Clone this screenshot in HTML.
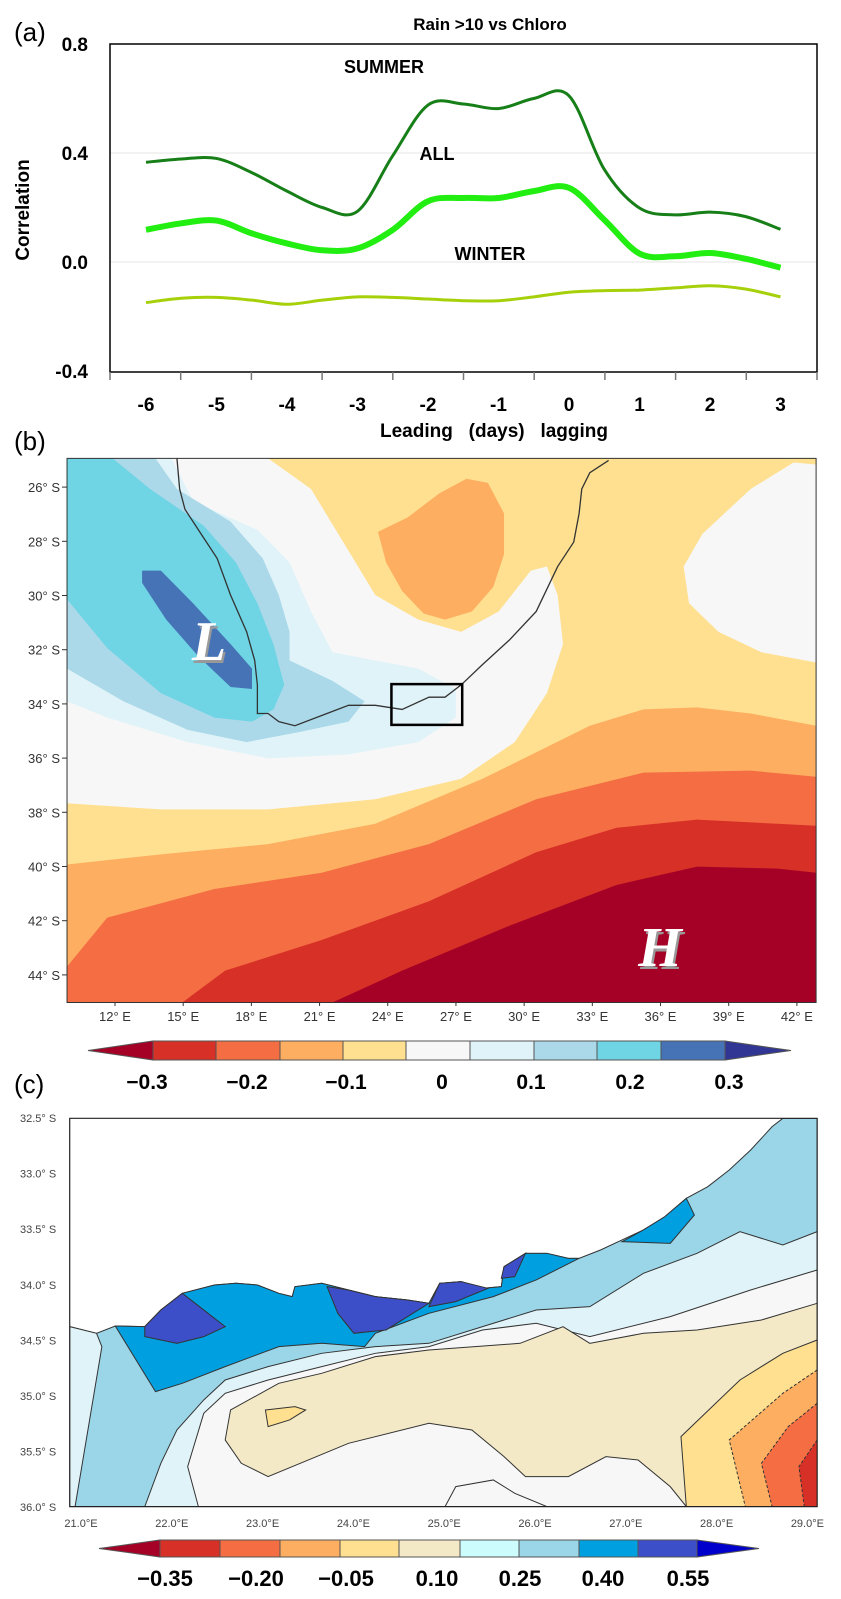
<!DOCTYPE html>
<html><head><meta charset="utf-8">
<style>
body{margin:0;background:#fff;width:841px;height:1599px;overflow:hidden;font-family:"Liberation Sans",sans-serif}
svg{position:absolute;left:0;top:0}
</style></head>
<body>
<svg id="fig" width="841" height="1599" viewBox="0 0 841 1599">
<!-- Panel (a) -->
<g>
<text x="14" y="41" font-size="26">(a)</text>
<text x="490" y="30" font-size="17" font-weight="bold" text-anchor="middle">Rain &gt;10  vs Chloro</text>
<g id="gridA"></g>
<rect x="110" y="44" width="707" height="328" fill="none" stroke="#000" stroke-width="1.5"/>
<g id="ticksA"></g>
<g id="linesA"></g>
<text x="384" y="73" font-size="18" font-weight="bold" text-anchor="middle">SUMMER</text>
<text x="437" y="160" font-size="18" font-weight="bold" text-anchor="middle">ALL</text>
<text x="490" y="260" font-size="18" font-weight="bold" text-anchor="middle">WINTER</text>
<text transform="translate(29,210) rotate(-90)" font-size="19" font-weight="bold" text-anchor="middle">Correlation</text>
<text x="494" y="437" font-size="19" font-weight="bold" text-anchor="middle" xml:space="preserve">Leading   (days)   lagging</text>
</g>

<!-- Panel (b) -->
<text x="14" y="450" font-size="26">(b)</text>
<defs>
<clipPath id="clipB"><rect x="125" y="45" width="1397" height="1333"/></clipPath>
<clipPath id="clipC"><rect x="130" y="115" width="1394" height="1165"/></clipPath>
</defs>
<g transform="translate(0,440) scale(0.5362,0.4082)">
<g clip-path="url(#clipB)">
<rect x="125" y="45" width="1397" height="1333" fill="#fee090"/>
<path fill="#fdae61" d="M125,1040 L300,1015 500,990 700,940 900,830 1100,700 1200,660 1300,655 1400,670 1522,700 L1522,1378 125,1378Z"/>
<path fill="#f46d43" d="M125,1290 L200,1170 400,1100 600,1060 800,990 1000,880 1200,815 1400,810 1522,825 L1522,1378 125,1378Z"/>
<path fill="#d73027" d="M340,1378 L420,1300 600,1225 800,1130 1000,1010 1150,950 1300,930 1522,945 L1522,1378Z"/>
<path fill="#a50026" d="M620,1378 L750,1300 950,1190 1150,1090 1300,1045 1450,1050 1522,1060 L1522,1378Z"/>
<path fill="#f7f7f7" d="M125,45 L500,45 580,120 640,250 700,380 780,440 860,470 930,420 990,320 1020,310 1040,380 1050,500 1020,620 960,740 860,830 700,880 500,905 300,905 125,890Z"/>
<path fill="#f7f7f7" d="M1522,60 L1480,55 1400,120 1310,230 1275,310 1285,400 1340,470 1420,520 1522,545Z"/>
<path fill="#fdae61" d="M705,225 L760,190 820,130 870,95 910,105 940,180 940,280 920,360 880,420 830,440 790,425 750,370 720,300Z"/>
<path fill="#e0f3f8" d="M125,45 L320,45 360,150 480,220 540,300 580,420 620,520 780,560 850,610 850,680 780,740 650,770 500,780 350,740 200,680 125,640Z"/>
<path fill="#abd9e9" d="M125,45 L290,45 330,120 430,200 490,290 520,380 540,470 540,540 620,590 680,640 650,690 560,715 460,740 350,710 230,640 125,560Z"/>
<path fill="#6fd4e4" d="M125,45 L210,45 280,120 380,210 440,300 480,400 510,500 530,600 510,660 470,690 400,680 300,620 200,510 125,390Z"/>
<path fill="#4673b6" d="M265,320 L300,320 360,400 430,500 470,560 470,610 430,605 370,530 310,440 265,350Z"/>
<path fill="none" stroke="#333" stroke-width="1.3" vector-effect="non-scaling-stroke" d="M330,45 L335,120 345,170 380,240 405,290 430,380 460,470 475,540 480,600 480,670 500,670 520,690 550,700 600,675 650,650 700,650 750,660 800,630 830,630 860,600 900,550 950,490 1000,420 1040,310 1070,250 1080,180 1085,120 1100,80 1135,50"/>
</g>
<rect x="125" y="45" width="1397" height="1333" fill="none" stroke="#333" stroke-width="1" vector-effect="non-scaling-stroke"/>
<rect x="730" y="598" width="132" height="100" fill="none" stroke="#000" stroke-width="2.5" vector-effect="non-scaling-stroke"/>
</g>
<text x="211" y="663" font-family="Liberation Serif,serif" font-size="56" font-weight="bold" font-style="italic" fill="#999" text-anchor="middle">L</text>
<text x="209" y="660" font-family="Liberation Serif,serif" font-size="56" font-weight="bold" font-style="italic" fill="#fff" text-anchor="middle">L</text>
<text x="662" y="969" font-family="Liberation Serif,serif" font-size="56" font-weight="bold" font-style="italic" fill="#999" text-anchor="middle">H</text>
<text x="660" y="966" font-family="Liberation Serif,serif" font-size="56" font-weight="bold" font-style="italic" fill="#fff" text-anchor="middle">H</text>
<g id="axesB" font-size="13" fill="#333"></g>
<g id="cbarB"></g>

<!-- Panel (c) -->
<text x="14" y="1093" font-size="26">(c)</text>
<g transform="translate(0,1080) scale(0.5362,0.3333)">
<g clip-path="url(#clipC)" stroke="#333" stroke-width="1" vector-effect="non-scaling-stroke">
<rect x="130" y="115" width="1394" height="1165" fill="#fff" stroke="none"/>
<path fill="#9ad5e8" vector-effect="non-scaling-stroke" d="M130,740 L180,760 215,738 270,740 300,690 340,640 400,615 440,610 480,615 520,640 545,650 550,620 600,610 650,630 700,650 760,660 800,670 820,610 860,605 900,625 935,620 940,560 980,520 1020,520 1060,535 1080,535 1120,510 1160,480 1200,450 1240,410 1280,355 1320,320 1360,270 1400,210 1440,140 1460,115 1524,115 1524,1280 130,1280Z"/>
<path fill="#e0f3f8" vector-effect="non-scaling-stroke" d="M130,740 L180,760 190,800 140,1280 130,1280Z"/>
<path fill="#00a0e0" vector-effect="non-scaling-stroke" d="M215,738 L270,740 300,690 340,640 400,615 440,610 480,615 520,640 545,650 550,620 600,610 650,630 700,650 760,660 800,670 820,610 860,605 900,625 935,620 940,560 980,520 1020,520 1060,535 1080,535 1000,600 920,650 800,700 700,760 680,800 600,790 520,800 420,860 340,910 290,935Z"/>
<path fill="#00a0e0" vector-effect="non-scaling-stroke" d="M1160,485 L1200,450 1240,410 1280,355 1295,405 1250,490Z"/>
<path fill="#3d4fc8" vector-effect="non-scaling-stroke" d="M270,740 L300,690 340,640 420,740 380,770 330,790 270,770Z"/>
<path fill="#3d4fc8" vector-effect="non-scaling-stroke" d="M610,620 L650,630 700,650 760,660 800,670 720,750 660,760 630,700Z"/>
<path fill="#3d4fc8" vector-effect="non-scaling-stroke" d="M820,610 L860,605 910,625 850,665 800,680Z"/>
<path fill="#3d4fc8" vector-effect="non-scaling-stroke" d="M940,560 L980,520 960,590 935,595Z"/>
<path fill="#e0f3f8" vector-effect="non-scaling-stroke" d="M1524,455 L1460,495 1380,455 1300,520 1200,580 1100,680 1000,690 900,740 800,790 700,800 600,820 500,860 420,900 380,960 330,1050 300,1150 270,1280 1524,1280Z"/>
<path fill="#f7f7f7" vector-effect="non-scaling-stroke" d="M1524,570 L1400,630 1250,710 1100,770 1000,730 900,750 800,800 700,820 600,860 500,900 420,940 380,1000 350,1160 370,1280 1524,1280Z"/>
<path fill="#f3e9c6" vector-effect="non-scaling-stroke" d="M1524,670 L1420,720 1300,750 1200,760 1100,790 1050,740 970,790 800,810 700,830 600,880 520,910 430,990 420,1080 450,1150 500,1190 560,1150 650,1090 800,1030 880,1050 940,1130 980,1190 1060,1190 1130,1130 1190,1140 1250,1220 1280,1280 1524,1280Z"/>
<path fill="#f7f7f7" vector-effect="non-scaling-stroke" d="M830,1280 L850,1220 920,1200 960,1240 1020,1280Z"/>
<path fill="#fee090" vector-effect="non-scaling-stroke" d="M1524,780 L1460,820 1380,900 1270,1070 1280,1280 1524,1280Z"/>
<path fill="#fee090" vector-effect="non-scaling-stroke" d="M495,990 L550,980 570,990 540,1020 500,1040Z"/>
<path fill="#fdae61" stroke-dasharray="3,2" vector-effect="non-scaling-stroke" d="M1524,870 L1460,940 1360,1080 1390,1280 1524,1280Z"/>
<path fill="#f46d43" stroke-dasharray="3,2" vector-effect="non-scaling-stroke" d="M1524,970 L1470,1040 1420,1150 1440,1280 1524,1280Z"/>
<path fill="#d73027" stroke-dasharray="3,2" vector-effect="non-scaling-stroke" d="M1524,1080 L1490,1160 1500,1280 1524,1280Z"/>
</g>
<rect x="130" y="115" width="1394" height="1165" fill="none" stroke="#222" stroke-width="1.2" vector-effect="non-scaling-stroke"/>
</g>
<g id="axesC" font-size="11" fill="#444"></g>
<g id="cbarC"></g>
</svg>
<script>
// ---- Panel (a) data ----
var lags = [-6,-5.5,-5,-4.5,-4,-3.5,-3,-2.5,-2,-1.5,-1,-0.5,0,0.5,1,1.5,2,2.5,3];
var summerVals = [0.366,0.378,0.38,0.328,0.26,0.20,0.186,0.39,0.576,0.58,0.563,0.60,0.61,0.34,0.198,0.173,0.183,0.167,0.12];
var allVals = [0.118,0.142,0.152,0.105,0.068,0.043,0.05,0.118,0.223,0.235,0.235,0.26,0.272,0.155,0.031,0.021,0.033,0.012,-0.021];
var winterVals = [-0.149,-0.133,-0.13,-0.14,-0.155,-0.14,-0.128,-0.13,-0.136,-0.142,-0.142,-0.128,-0.111,-0.105,-0.103,-0.095,-0.087,-0.099,-0.128];
var xTickLabels = [-6,-5,-4,-3,-2,-1,0,1,2,3];
var yTickVals = [0.8,0.4,0.0,-0.4];
var yTickText = ["0.8","0.4","0.0","-0.4"];
var NS = "http://www.w3.org/2000/svg";
function xA(v){return 146 + (v+6)*70.5;}
function yA(v){return 262 - v*272.5;}
function mk(tag, attrs, parent){var e=document.createElementNS(NS,tag);for(var k in attrs)e.setAttribute(k,attrs[k]);parent.appendChild(e);return e;}
var grid=document.getElementById('gridA'), ticks=document.getElementById('ticksA'), lines=document.getElementById('linesA');
yTickVals.forEach(function(v,i){
  if(v<0.8 && v>-0.4){var g=mk('line',{x1:110,x2:817,y1:yA(v),y2:yA(v),stroke:'#e4e4e4','stroke-width':1},grid);
  
  }
  var t=mk('text',{x:88,y:yA(v)+7,'font-size':19,'font-weight':'bold','text-anchor':'end'},ticks);
  t.textContent=yTickText[i];
  
  
});
for(var i=0;i<=10;i++){
  var x=110+i*70.7;
  var tk=mk('line',{x1:x,x2:x,y1:372,y2:380,stroke:'#777','stroke-width':1.5},ticks);
  
  
}
xTickLabels.forEach(function(v){
  var t=mk('text',{x:xA(v),y:411,'font-size':19,'font-weight':'bold','text-anchor':'middle'},ticks);
  t.textContent=v;
  
  
});
function smooth(vals){
  var p=vals.map(function(v,i){return [xA(lags[i]),yA(v)];});
  var d='M'+p[0][0]+','+p[0][1];
  for(var i=0;i<p.length-1;i++){
    var p0=p[i-1]||p[i],p1=p[i],p2=p[i+1],p3=p[i+2]||p2;
    d+=' C'+(p1[0]+(p2[0]-p0[0])/6)+','+(p1[1]+(p2[1]-p0[1])/6)+' '+(p2[0]-(p3[0]-p1[0])/6)+','+(p2[1]-(p3[1]-p1[1])/6)+' '+p2[0]+','+p2[1];
  }
  return d;
}
var s1=mk('path',{d:smooth(winterVals),fill:'none',stroke:'#a6d10a','stroke-width':3},lines);


var s2=mk('path',{d:smooth(allVals),fill:'none',stroke:'#22ee11','stroke-width':6},lines);


var s3=mk('path',{d:smooth(summerVals),fill:'none',stroke:'#177f17','stroke-width':3},lines);



// ---- Panel (b) axes ----
var latB = [26,28,30,32,34,36,38,40,42,44];
var lonB = [12,15,18,21,24,27,30,33,36,39,42];
var axB=document.getElementById('axesB');
latB.forEach(function(l){
  var y=460+(l-25)*27.1;
  var t=mk('text',{x:60,y:y+5,'font-size':13,'text-anchor':'end'},axB); t.textContent=l+'\u00B0 S';
  
  
  mk('line',{x1:62,x2:67,y1:y,y2:y,stroke:'#333'},axB);
});
lonB.forEach(function(l){
  var x=115+(l-12)*22.73;
  var t=mk('text',{x:x,y:1021,'font-size':13,'text-anchor':'middle'},axB); t.textContent=l+'\u00B0 E';
  
  
  mk('line',{x1:x,x2:x,y1:1002,y2:1006,stroke:'#333'},axB);
});
function cbar(g, x0, boxes, x1, y0, h, cols, tipL, tipR, labels, labelX, ly, fs){
  mk('polygon',{points:x0+','+(y0+h/2)+' '+boxes[0]+','+y0+' '+boxes[0]+','+(y0+h),fill:tipL,stroke:'#555'},g);
  for(var i=0;i<cols.length;i++){
    var r=mk('rect',{x:boxes[i],y:y0,width:boxes[i+1]-boxes[i],height:h,fill:cols[i],stroke:'#555','stroke-width':1},g);
    
    
  }
  var b=boxes[boxes.length-1];
  mk('polygon',{points:b+','+y0+' '+x1+','+(y0+h/2)+' '+b+','+(y0+h),fill:tipR,stroke:'#555'},g);
  labels.forEach(function(s,i){
    var t=mk('text',{x:labelX[i],y:ly,'font-size':fs,'font-weight':'bold','text-anchor':'middle'},g);
    t.textContent=s;
    
    
  });
}
var cbB=document.getElementById('cbarB');


var levelsB=['\u22120.3','\u22120.2','\u22120.1','0','0.1','0.2','0.3'];
cbar(cbB,88,[153,216,280,343,406,470,534,597,661,725],791,1041,19,
 ['#d73027','#f46d43','#fdae61','#fee090','#f7f7f7','#e0f3f8','#abd9e9','#6fd4e4','#4673b6'],'#a50026','#313695',
 levelsB,[147,247,346,442,531,630,729],1089,21);

// ---- Panel (c) axes ----
var latC=['32.5','33.0','33.5','34.0','34.5','35.0','35.5','36.0'];
var lonC=['21.0','22.0','23.0','24.0','25.0','26.0','27.0','28.0','29.0'];
var axC=document.getElementById('axesC');
latC.forEach(function(l,i){
  var y=1118+i*55.6;
  var t=mk('text',{x:20,y:y+4,'font-size':11},axC); t.textContent=l+'\u00B0 S';
  
  
});
lonC.forEach(function(l,i){
  var x=81+i*90.8;
  var t=mk('text',{x:x,y:1527,'font-size':11,'text-anchor':'middle'},axC); t.textContent=l+'\u00B0E';
  
  
});
var cbC=document.getElementById('cbarC');


var levelsC=['\u22120.35','\u22120.20','\u22120.05','0.10','0.25','0.40','0.55'];
cbar(cbC,99,[160,220,280,340,399,460,519,579,638,697],759,1540,17,
 ['#d73027','#f46d43','#fdae61','#fee090','#f3e9c6','#ccfcfc','#9ad5e8','#00a0e0','#3d4fc8'],'#a50026','#0000cc',
 levelsC,[165,256,346,437,520,603,688],1586,22);
</script>
</body></html>
